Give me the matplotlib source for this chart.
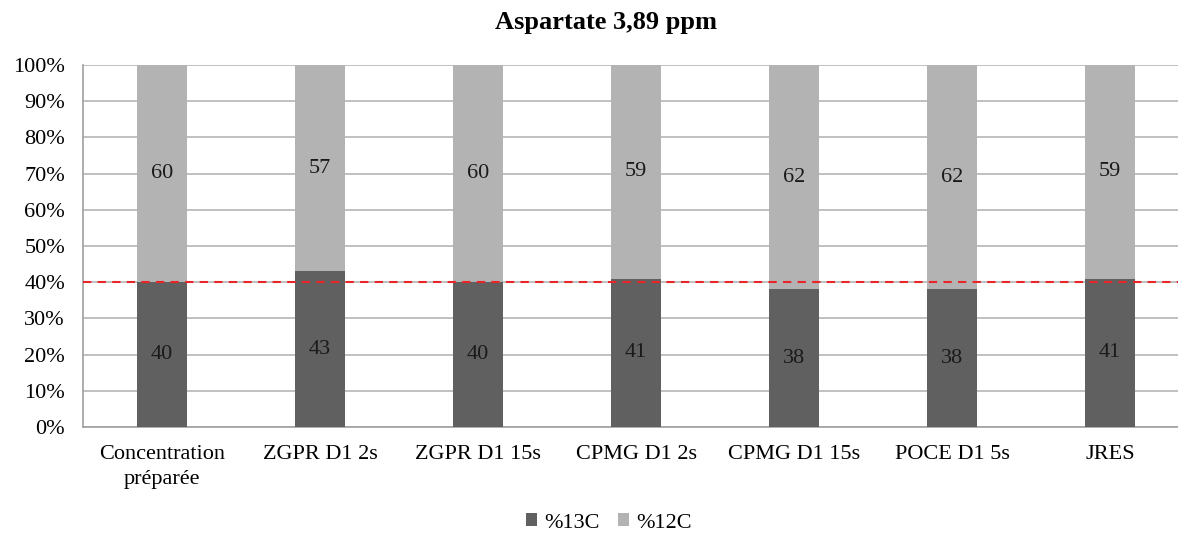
import matplotlib
matplotlib.use("Agg")
import matplotlib.pyplot as plt
import numpy as np

categories = ["Concentration\npréparée", "ZGPR D1 2s", "ZGPR D1 15s", "CPMG D1 2s",
              "CPMG D1 15s", "POCE D1 5s", "JRES"]
pct13C = [40, 43, 40, 41, 38, 38, 41]
pct12C = [60, 57, 60, 59, 62, 62, 59]
reference = 40
yticks = [0, 10, 20, 30, 40, 50, 60, 70, 80, 90, 100]
title = "Aspartate 3,89 ppm"

plt.rcParams['font.family'] = ['Liberation Serif', 'DejaVu Serif']

fig = plt.figure(figsize=(11.78, 5.35), dpi=100)
ax = fig.add_axes([83/1178, 1-427/535, 1-83/1178, (427-65)/535])

x = np.arange(len(categories))
c13 = "#5f605f"
c12 = "#b3b3b3"
w = 50/158
b1 = ax.bar(x, pct13C, width=w, color=c13, label="%13C", zorder=3)
b2 = ax.bar(x, pct12C, width=w, bottom=pct13C, color=c12, label="%12C", zorder=3)

for xi, a, b in zip(x, pct13C, pct12C):
    ax.text(xi, a/2, f"{a}", ha="center", va="center", fontsize=16, color="#1a1a1a", zorder=4)
    ax.text(xi, a + b/2, f"{b}", ha="center", va="center", fontsize=16, color="#1a1a1a", zorder=4)

ax.axhline(reference, color="#e8262a", linestyle=(0, (4, 3)), linewidth=1.5, zorder=5)

ax.set_ylim(0, 100)
ax.set_xlim(-0.5, 6.5 - (1189-1178)/158)
ax.set_yticks(yticks)
ax.set_yticklabels([f"{v}%" for v in yticks], fontsize=16)
ax.set_xticks(x)
ax.set_xticklabels(categories, fontsize=16, linespacing=1.4)
ax.tick_params(axis="y", length=0, pad=13)
ax.tick_params(axis="x", length=0, pad=13)
ax.yaxis.grid(True, color="#b5b5b5", linewidth=1.2, zorder=0)
for s in ["top", "right"]:
    ax.spines[s].set_visible(False)
ax.spines["left"].set_color("#a0a0a0")
ax.spines["bottom"].set_color("#a0a0a0")
ax.spines["left"].set_linewidth(1.2)
ax.spines["bottom"].set_linewidth(1.2)

fig.text(606/1178, 1-23/535, title, ha="center", va="center", fontsize=19, fontweight="bold")

fig.legend(handles=[b1, b2], loc="center", bbox_to_anchor=(609/1178, 1-523/535), ncol=2,
           frameon=False, fontsize=16, handlelength=0.5, handleheight=0.5,
           handletextpad=0.35, columnspacing=0.8)

fig.savefig("out.png", dpi=100)
